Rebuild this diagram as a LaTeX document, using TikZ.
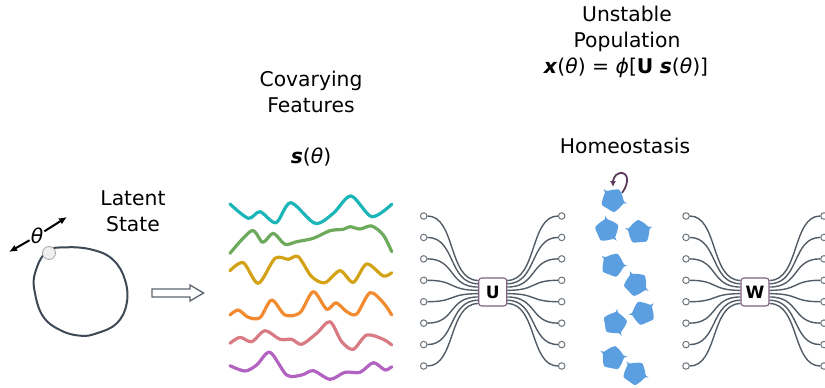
\documentclass[tikz,border=0pt]{standalone}
\usepackage{fontspec}
\setmainfont{DejaVu Sans}
\usepackage[dvipsnames]{xcolor}
\usetikzlibrary{positioning,arrows.meta}

\definecolor{ring}{HTML}{3E4955}
\definecolor{wirecol}{HTML}{525C66}
\definecolor{cellcol}{HTML}{5B9FE0}
\definecolor{loopcol}{HTML}{5B3C5D}
\definecolor{boxline}{HTML}{7E5F80}
\definecolor{f1}{HTML}{1CB5B8}
\definecolor{f2}{HTML}{6DAA5C}
\definecolor{f3}{HTML}{D4A216}
\definecolor{f4}{HTML}{F28B30}
\definecolor{f5}{HTML}{D97B82}
\definecolor{f6}{HTML}{B263C2}

% one mixing layer: name, x of centre, letter
\newcommand{\mixnet}[3]{%
  \node[weight] (#1) at (#2,292) {#3};
  \foreach \i in {0,...,7}{
    \pgfmathsetmacro{\py}{216+\i*21.43}
    \pgfmathsetmacro{\dy}{(\i-3.5)*3.3}
    \node[port] (#1l\i) at (#2-69,\py) {};
    \node[port] (#1r\i) at (#2+69,\py) {};
    \draw[wire] (#1l\i) .. controls +(32,0) and +(-30,0) .. ([yshift=-\dy pt]#1.west);
    \draw[wire] ([yshift=-\dy pt]#1.east) .. controls +(30,0) and +(-32,0) .. (#1r\i);
  }%
}

\begin{document}
\begin{tikzpicture}[x=1pt,y=-1pt,>=Latex,
  label node/.style={align=center,font=\fontsize{20.3}{26}\selectfont,inner sep=1pt},
  feature/.style={line width=3.2pt,line cap=round,line join=round},
  wire/.style={draw=wirecol,line width=1.4pt},
  port/.style={circle,draw=wirecol!85,fill=white,line width=1pt,inner sep=0pt,minimum size=6.5pt},
  weight/.style={draw=boxline,fill=white,rounded corners=3pt,line width=1.1pt,minimum size=28pt,inner sep=0pt,font=\fontsize{17}{17}\selectfont\bfseries}]

  \useasboundingbox (0,0) rectangle (825,388);

  % labels
  \node[label node] (latent) at (133,211) {Latent\\State};
  \node[label node] (covary) at (311,92) {Covarying\\Features};
  \node[label node] (feat) at (311,157) {\textbf{\textit{s}}(\textit{θ})};
  \node[label node] (unstable) at (627,29) {Unstable\\Population};
  \node[label node] (pop) at (626,68) {\textbf{\textit{x}}(\textit{θ}) = \textit{ϕ}[\textbf{U} \textbf{\textit{s}}(\textit{θ})]};
  \node[label node] (homeo) at (625,146) {Homeostasis};

  % latent ring
  \draw[ring,line width=2pt] plot[smooth cycle,tension=0.7] coordinates {
    (46.7,251.7) (66.7,247.3) (93.3,250) (113.3,260) (125,280) (126.7,303.3)
    (116.7,323.3) (96.7,333.3) (80,335.7) (60,330) (43.3,316.7) (35,293.3)
    (35,273.3)};
  \node[circle,draw=gray!70,fill=gray!12,line width=0.8pt,minimum size=13pt,inner sep=0pt] (knob) at (49,253) {};

  \node[label node] (theta) at (37,236) {\textit{θ}};
  \coordinate (ta) at (9,252);
  \coordinate (tb) at (67,217);
  \draw[-{Latex[length=8pt,width=7pt]},line width=2pt] (theta) -- (ta);
  \draw[-{Latex[length=8pt,width=7pt]},line width=2pt] (theta) -- (tb);

  % hollow arrow
  \draw[ring!85,line width=1.3pt,fill=white,line join=miter]
    (152,289) -- (190,289) -- (190,285) -- (203.5,293) -- (190,301) -- (190,297) -- (152,297) -- cycle;

  % features
  \draw[feature,f1] plot[smooth] coordinates {(230,204) (248.3,218.3) (260,211.7) (276,222.7) (290.7,202.7) (315,223.3) (333.3,213.3) (351,196) (371.7,216.7) (391.7,204.3)};
  \draw[feature,f2] plot[smooth] coordinates {(230,253.3) (251.7,230.7) (262.7,242.3) (273.3,233.3) (285,244.3) (296.7,241.7) (313.3,238.3) (330,230.7) (343.3,229.3) (350,226.7) (360,229) (371.7,226) (383.3,235) (391.7,251.7)};
  \draw[feature,f3] plot[smooth] coordinates {(230,270.7) (243.3,262.7) (258.3,283.3) (275,258.3) (288.3,259.3) (298.3,256.7) (311.7,276.7) (325,282.7) (340,270.7) (353.3,282.3) (366.7,264) (383.3,276) (391.7,272.7)};
  \draw[feature,f4] plot[smooth] coordinates {(230,315) (238.3,310) (248.3,317.3) (260,317.7) (271.7,300) (285,315) (300,312.7) (313.3,291.7) (326.7,309.3) (336,302.7) (346.7,311.7) (356.7,314) (370,292.7) (383.3,302.7) (391.7,315)};
  \draw[feature,f5] plot[smooth] coordinates {(230,343.3) (240,337.3) (251.7,341.7) (265,330.7) (280,339.3) (291.7,339.3) (301.7,344.3) (316.7,333.3) (330,321.7) (341.7,341.7) (353.3,349.3) (366.7,335) (383.3,339.3) (391.7,345)};
  \draw[feature,f6] plot[smooth] coordinates {(230,365.7) (245,371) (256.7,365) (270,352.3) (286.7,375) (301.7,375) (313.3,370.7) (330,379.3) (345,372.3) (360,372.3) (373.3,362.7) (385,370) (391.7,366.7)};

  % mixing layers
  \mixnet{U}{492.7}{U}
  \mixnet{W}{755}{W}

  % population cells
  \foreach \bx/\by/\br [count=\k] in {613/200/5, 607/230/-30, 639/232/40, 613/265/15, 636/284/-10, 643/313/60, 615/323/-45, 613/358/25, 635/373/0}{
    \coordinate (c\k) at (\bx,\by);
    \begin{scope}[shift={(\bx,\by)},rotate=\br]
      \fill[cellcol] plot[smooth cycle,tension=0.45] coordinates {
        (12:11) (18:14.5) (24:11) (54:10.2) (90:12) (126:10.2) (162:12)
        (198:10.2) (228:11) (234:14.5) (240:11) (270:10.2) (306:12) (342:10.2)};
    \end{scope}
  }
  \draw[loopcol,line width=1.8pt,-{Latex[length=6pt,width=6pt]}]
    ([shift={(9,-7)}]c1) .. controls +(8,-11) and +(8,-1) .. ([shift={(7,-27)}]c1)
    .. controls +(-6,1) and +(0,-6) .. ([shift={(0,-13)}]c1);
\end{tikzpicture}
\end{document}
